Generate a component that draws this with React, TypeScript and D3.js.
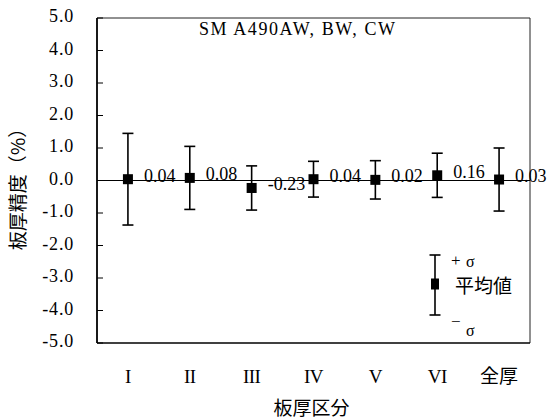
import React from "react";
import * as d3 from "d3";

// Plate-thickness accuracy by thickness class (mean ± σ, %)
const categories = ["I", "II", "III", "IV", "V", "VI", "全厚"];
const means = [0.04, 0.08, -0.23, 0.04, 0.02, 0.16, 0.03];
const sigmas = [1.41, 0.97, 0.68, 0.55, 0.59, 0.68, 0.97];
const yTicks = [5, 4, 3, 2, 1, 0, -1, -2, -3, -4, -5];

const W = 559;
const H = 420;
const plot = { left: 97, right: 530, top: 18, bottom: 343 };

const SERIF = "'Liberation Serif', 'Times New Roman', serif";
const CJK = "'Noto Sans CJK JP', 'Noto Sans', sans-serif";

export default function App() {
  const x = d3
    .scaleBand<string>()
    .domain(categories)
    .range([plot.left, plot.right]);
  const y = d3.scaleLinear().domain([-5, 5]).range([plot.bottom, plot.top]);
  const cx = (c: string) => (x(c) ?? 0) + x.bandwidth() / 2;
  const fmt = (v: number) => v.toFixed(2);
  const cap = 5.5;
  const mk = 10;

  // legend geometry
  const lgX = 435;
  const lgTop = 255;
  const lgBot = 315;
  const lgMid = 284;

  return (
    <svg
      width={W}
      height={H}
      style={{ position: "absolute", left: 0, top: 0, background: "#fff" }}
    >
      <rect x={0} y={0} width={W} height={H} fill="#fff" />

      {/* frame */}
      <line x1={plot.left} x2={plot.right} y1={plot.top} y2={plot.top} stroke="#222" strokeWidth={1} />
      <line x1={plot.right} x2={plot.right} y1={plot.top} y2={plot.bottom} stroke="#222" strokeWidth={1} />
      <line x1={plot.left} x2={plot.right} y1={plot.bottom} y2={plot.bottom} stroke="#000" strokeWidth={1.6} />
      <line x1={plot.left} x2={plot.left} y1={plot.top} y2={plot.bottom} stroke="#000" strokeWidth={1.8} />

      {/* y ticks (inside) and labels */}
      {yTicks.map((t) => (
        <g key={t}>
          <line x1={plot.left} x2={plot.left + 6} y1={y(t)} y2={y(t)} stroke="#000" strokeWidth={1} />
          <text
            x={74}
            y={y(t) - 2}
            dy="0.35em"
            textAnchor="end"
            fontFamily={SERIF}
            fontSize={18}
            letterSpacing={0.8}
            fill="#000"
          >
            {t.toFixed(1)}
          </text>
        </g>
      ))}

      {/* zero line */}
      <line x1={plot.left} x2={plot.right} y1={y(0)} y2={y(0)} stroke="#000" strokeWidth={1} />

      {/* title */}
      <text
        x={199}
        y={35}
        fontFamily={SERIF}
        fontSize={18}
        textLength={196}
        lengthAdjust="spacing"
        fill="#000"
      >
        SM A490AW, BW, CW
      </text>

      {/* error bars, means, value labels */}
      {categories.map((c, i) => {
        const px = cx(c);
        const m = means[i];
        const s = sigmas[i];
        return (
          <g key={c}>
            <line x1={px} x2={px} y1={y(m + s)} y2={y(m - s)} stroke="#000" strokeWidth={1.6} />
            <line x1={px - cap} x2={px + cap} y1={y(m + s)} y2={y(m + s)} stroke="#000" strokeWidth={1.6} />
            <line x1={px - cap} x2={px + cap} y1={y(m - s)} y2={y(m - s)} stroke="#000" strokeWidth={1.6} />
            <rect x={px - mk / 2} y={y(m) - mk / 2} width={mk} height={mk} fill="#000" />
            <text
              x={px + 16}
              y={y(m) - 4}
              dy="0.35em"
              fontFamily={SERIF}
              fontSize={18}
              fill="#000"
            >
              {fmt(m)}
            </text>
          </g>
        );
      })}

      {/* x category labels */}
      {categories.map((c) => (
        <text
          key={c}
          x={cx(c)}
          y={376.5}
          dy="0.35em"
          textAnchor="middle"
          fontFamily={c === "全厚" ? CJK : SERIF}
          fontSize={19}
          letterSpacing={c === "全厚" ? 0 : -0.5}
          fill="#000"
        >
          {c}
        </text>
      ))}

      {/* legend */}
      <line x1={lgX} x2={lgX} y1={lgTop} y2={lgBot} stroke="#000" strokeWidth={1.6} />
      <line x1={lgX - cap} x2={lgX + cap} y1={lgTop} y2={lgTop} stroke="#000" strokeWidth={1.6} />
      <line x1={lgX - cap} x2={lgX + cap} y1={lgBot} y2={lgBot} stroke="#000" strokeWidth={1.6} />
      <rect x={lgX - 4} y={lgMid - 5.5} width={8} height={11} fill="#000" />
      <text x={451} y={260} dy="0.35em" fontFamily={SERIF} fontSize={17} fill="#000">
        +
      </text>
      <text x={466} y={261} dy="0.35em" fontFamily={SERIF} fontSize={16} fill="#000">
        σ
      </text>
      <text x={455} y={286} dy="0.35em" fontFamily={CJK} fontSize={19} fill="#000">
        平均値
      </text>
      <text x={451} y={321} dy="0.35em" fontFamily={SERIF} fontSize={17} fill="#000">
        −
      </text>
      <text x={466} y={330} dy="0.35em" fontFamily={SERIF} fontSize={16} fill="#000">
        σ
      </text>

      {/* axis titles */}
      <text
        transform={`translate(18.5, 184.5) rotate(-90)`}
        textAnchor="middle"
        dy="0.35em"
        fontFamily={CJK}
        fontSize={19}
        fill="#000"
      >
        板厚精度（%）
      </text>
      <text x={311.5} y={408.5} dy="0.35em" textAnchor="middle" fontFamily={CJK} fontSize={19} fill="#000">
        板厚区分
      </text>
    </svg>
  );
}
